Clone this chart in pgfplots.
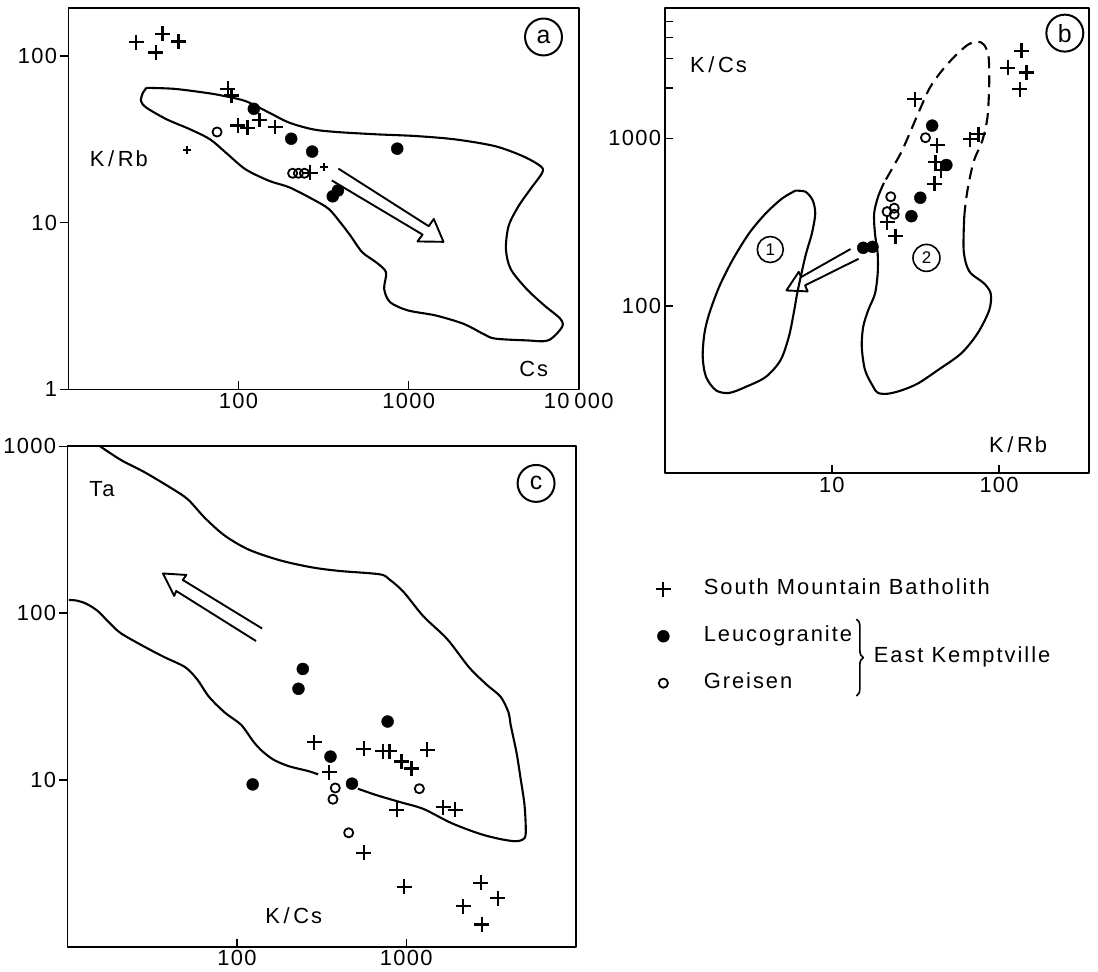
\documentclass[border=0pt]{standalone}
\usepackage{fontspec}
\setmainfont{Liberation Sans}[LetterSpace=6]
\newfontfamily\lgfont{Liberation Sans}[LetterSpace=9]
\usepackage{pgfplots}
\pgfplotsset{compat=1.18}
\usetikzlibrary{decorations.pathreplacing}
\newcommand{\lbl}{\fontsize{22}{24}\selectfont}
\newcommand{\lgd}{\lgfont\fontsize{22}{24}\selectfont}
\newcommand{\cirfont}{\fontsize{25}{27}\selectfont}
\newcommand{\sml}{\fontsize{17}{19}\selectfont}
\pgfplotsset{
  every axis/.append style={scale only axis,
    axis line style={line width=1.8bp},
    tick style={line width=1.5bp, black}, major tick length=8bp,
    xminorticks=false, yminorticks=false, xtick align=inside,
    xtick pos=bottom, ytick pos=left,
    tick label style={font=\lbl}, clip=false},
}
\tikzset{
  smplus/.style={black, only marks, mark=+, mark size=7.5bp, line width=2.2bp},
  smsmall/.style={black, only marks, mark=+, mark size=4bp, line width=1.6bp},
  lgdot/.style={black, only marks, mark=*, mark size=6bp, mark options={fill=black}},
  grdot/.style={black, only marks, mark=o, mark size=4.6bp, line width=1.8bp},
  envl/.style={black, line width=2.1bp, smooth, tension=0.5},
  harrow/.style={line width=1.9bp},
  circlbl/.style={circle, draw, line width=2bp, minimum size=37bp, inner sep=0pt, font=\cirfont},
}
\begin{document}
\begin{tikzpicture}[line join=round]
\path (0,0) rectangle (1098bp,-973bp);

% ---------------- panel a
\begin{axis}[xmode=log, ymode=log, at={(67bp,-8bp)}, anchor=north west, width=511bp, height=382bp,
  xmin=10, xmax=10000, ymin=1, ymax=194,
  xtick={100,1000,10000}, xticklabels={100,1000,10\hspace{5bp}000},
  ytick={1,10,100}, yticklabels={1,10,100}, ytick align=outside]
\addplot[envl, no marks] coordinates {(28.8,64.4)(42.0,63.5)(64.4,60.1)(79.8,57.9)(110,53.6)(152,45.6)(199,39.8)(274,36.3)(377,35.0)(644,33.9)(1101,33.1)(1880,31.6)(3212,28.8)(4677,25.1)(5943,21.9)(6107,20.0)(5200,15.9)(4432,12.6)(3877,9.6)(3733,6.96)(3981,5.28)(4932,4.01)(6281,3.19)(7780,2.66)(7980,2.37)(6622,1.97)(4932,1.97)(3212,2.02)(2735,2.16)(2094,2.48)(1439,2.78)(989,2.98)(778,3.34)(718,4.01)(736,5.05)(644,5.79)(534,6.65)(455,8.36)(398,10.0)(339,12.1)(274,13.8)(199,16.3)(152,17.8)(110,20.9)(84.3,26.3)(68.1,31.6)(52.0,36.3)(37.8,41.7)(28.8,48.9)(26.7,53.6)(27.4,60.1)(28.8,64.4)};
\addplot[smplus] coordinates {(25,121)(32.7,105)(35.7,136)(44.4,122)(86.5,63.5)(91,58)(99,38.3)(113,37.1)(133,41.3)(164,37.5)(264,19.9)};
\addplot[smsmall] coordinates {(49.9,27.2)(318,21.6)};
\addplot[lgdot] coordinates {(123,48.2)(204,31.9)(271,26.7)(857,27.8)(358,14.4)(384,15.6)};
\addplot[grdot] coordinates {(74.8,35)(208,19.8)(225,19.8)(244,19.8)};
\draw[harrow] (rel axis cs:0.529,0.579) -- (rel axis cs:0.706,0.428) -- (rel axis cs:0.716,0.447) -- (rel axis cs:0.735,0.387) -- (rel axis cs:0.684,0.388) -- (rel axis cs:0.694,0.406) -- (rel axis cs:0.516,0.548);
\node[font=\lgd] at (rel axis cs:0.099,0.604) {K\,/\,Rb};
\node[font=\lgd] at (rel axis cs:0.912,0.053) {Cs};
\node[circlbl] at (rel axis cs:0.931,0.924) {a};
\end{axis}

% ---------------- panel b
\begin{axis}[xmode=log, ymode=log, at={(664bp,-8bp)}, anchor=north west, width=425bp, height=466bp,
  xmin=1, xmax=345, ymin=10, ymax=6000,
  xtick={10,100}, xticklabels={10,100},
  ytick={100,1000}, yticklabels={100,1000}, ytick align=inside,
  extra y ticks={2000,3000,4000,5000}, extra y tick labels={},
  legend style={at={(-0.021,-0.350)}, anchor=west, draw=none, fill=none, inner sep=0pt,
    font=\lgd, row sep=26bp, nodes={text height=16bp, text depth=5bp, inner ysep=0pt}},
  legend cell align=left,
  legend image code/.code={\draw[#1] plot coordinates {(0bp,0bp)};}]
\addplot[smplus] coordinates {(31.3,1710)(136,3340)(113,2640)(146,2470)(133,1963)(67.3,986)(75.4,1057)(42.6,908)(41.7,719)(45.0,647)(41.1,536)(21.4,316)(24.0,261)};
\addlegendentry{\hspace*{31bp}South Mountain Batholith}
\addplot[lgdot] coordinates {(39.8,1191)(48.4,693)(33.8,442)(29.9,343)(15.4,222)(17.5,225)};
\addlegendentry{\hspace*{31bp}Leucogranite}
\addplot[grdot] coordinates {(36.3,1009)(22.5,448)(21.4,365)(23.6,383)(23.6,352)};
\addlegendentry{\hspace*{31bp}Greisen}
\addplot[envl, no marks, forget plot] coordinates {(6.05,487)(6.95,480)(7.67,428)(7.96,356)(7.60,271)(7.01,205)(6.58,156)(6.20,118)(5.91,90.0)(5.53,65.3)(4.93,47.3)(4.02,37.6)(3.05,32.8)(2.43,30.2)(2.03,31.3)(1.77,37.6)(1.69,49.5)(1.73,68.4)(1.85,90.0)(2.12,130)(2.55,188)(3.20,271)(4.02,356)(5.05,438)(6.05,487)};
\addplot[envl, no marks, forget plot] coordinates {(20.5,543)(18.9,448)(17.9,356)(18.1,271)(18.8,205)(18.8,156)(18.1,118)(16.5,94.2)(15.4,75.0)(15.1,56.9)(15.8,41.3)(17.7,32.8)(18.9,30.2)(21.7,29.9)(26.1,31.3)(32.7,34.4)(43.0,41.3)(59.2,51.9)(74.3,68.4)(87.3,94.2)(89.2,118)(81.4,136)(67.9,156)(63.4,179)(61.4,215)(61.4,271)(61.9,340)};
\addplot[envl, no marks, forget plot, dash pattern=on 12bp off 7bp] coordinates {(61.9,340)(63.4,428)(66.4,563)(71.0,743)(79.6,977)(85.3,1346)(87.3,2133)(86.5,3076)(81.4,3614)(74.3,3784)(64.9,3614)(54.1,3076)(45.0,2500)(38.4,1991)(33.5,1476)(29.2,1072)(26.1,832)(22.7,647)(20.5,543)};
\draw[harrow] (rel axis cs:0.438,0.482) -- (rel axis cs:0.322,0.422) -- (rel axis cs:0.316,0.433) -- (rel axis cs:0.287,0.393) -- (rel axis cs:0.337,0.391) -- (rel axis cs:0.331,0.404) -- (rel axis cs:0.457,0.461);
\node[font=\lgd] at (rel axis cs:0.127,0.878) {K\,/\,Cs};
\node[font=\lgd] at (rel axis cs:0.833,0.062) {K\,/\,Rb};
\node[circlbl] at (rel axis cs:0.943,0.946) {b};
\node[circle, draw, line width=1.6bp, minimum size=26bp, inner sep=0pt, font=\sml] at (rel axis cs:0.249,0.481) {1};
\node[circle, draw, line width=1.6bp, minimum size=27bp, inner sep=0pt, font=\sml] at (rel axis cs:0.617,0.463) {2};
\end{axis}

% ---------------- panel c
\begin{axis}[xmode=log, ymode=log, at={(66bp,-447bp)}, anchor=north west, width=509bp, height=501bp,
  xmin=10, xmax=10000, ymin=1, ymax=1000,
  xtick={100,1000}, xticklabels={100,1000},
  ytick={10,100,1000}, yticklabels={10,100,1000}, ytick align=outside]
\addplot[envl, no marks] coordinates {(15.6,1000)(20.9,824)(28.9,695)(44.6,533)(52.4,472)(65.0,371)(85.1,291)(118,240)(181,207)(279,188)(406,179)(697,171)(797,159)(964,134)(1262,95.7)(1742,70.0)(2344,47.4)(2986,37.2)(3606,31.5)(4018,25.3)(4130,21.4)(4477,14.5)(4721,10.3)(4989,7.03)(5070,4.77)(4853,4.38)(4355,4.29)(3516,4.44)(2685,4.77)(1841,5.52)(1262,6.70)(912,7.38)(661,8.13)(518,8.86)};
\addplot[envl, no marks] coordinates {(10.2,120)(11.3,119)(12.9,114)(15.1,103)(17.8,86.9)(20.9,75.2)(30.5,60.6)(37.9,54.1)(49.6,47.4)(58.3,40.1)(68.5,31.5)(85.1,25.3)(106,21.4)(124,17.2)(138,15.2)(163,13.3)(202,12.1)(264,11.3)(302,10.8)};
\addplot[smplus] coordinates {(286,16.8)(351,11.1)(561,15.4)(727,14.9)(797,14.9)(937,12.9)(1072,11.7)(1330,15.2)(879,6.63)(1652,6.85)(1941,6.63)(561,3.66)(973,2.29)(2754,2.42)(3473,1.95)(2163,1.75)(2786,1.36)};
\addplot[lgdot] coordinates {(245,46.3)(231,35.2)(776,22.4)(357,13.8)(124,9.4)(478,9.5)};
\addplot[grdot] coordinates {(381,8.95)(369,7.66)(1194,8.86)(457,4.82)};
\draw[harrow] (rel axis cs:0.383,0.636) -- (rel axis cs:0.227,0.733) -- (rel axis cs:0.234,0.743) -- (rel axis cs:0.188,0.746) -- (rel axis cs:0.210,0.701) -- (rel axis cs:0.214,0.711) -- (rel axis cs:0.371,0.611);
\node[font=\lgd] at (rel axis cs:0.068,0.915) {Ta};
\node[font=\lgd] at (rel axis cs:0.445,0.063) {K\,/\,Cs};
\node[circlbl] at (rel axis cs:0.922,0.926) {c};
\end{axis}

% brace of the legend
\draw[line width=1.6bp, decorate, decoration={brace, amplitude=7bp}] (856bp,-620bp) -- (856bp,-697bp);
\node[font=\lgd, anchor=west] at (870bp,-658bp) {East Kemptville};
\end{tikzpicture}
\end{document}
